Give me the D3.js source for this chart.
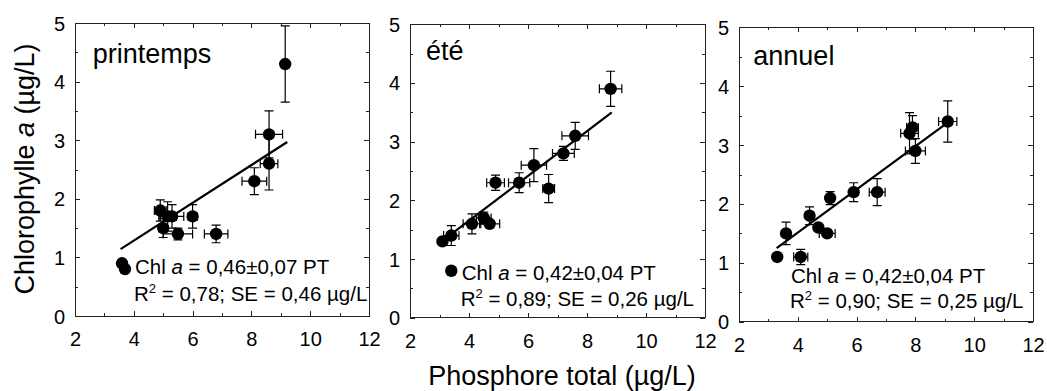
<!DOCTYPE html>
<html>
<head>
<meta charset="utf-8">
<script src="https://cdn.jsdelivr.net/npm/d3@7"></script>
<style>
  body { margin: 0; background: #fff; }
  text { font-family: Arial, "Liberation Sans", sans-serif; fill: #000; white-space: pre; }
</style>
</head>
<body>
<div id="main"></div>
<script>
const ctx = {
    w: 1047,
    h: 391,
};

// ticks
const xTicks = [2, 4, 6, 8, 10, 12];
const xMinor = [3, 5, 7, 9, 11];
const yTicks = [0, 1, 2, 3, 4, 5];
const yMinor = [0.5, 1.5, 2.5, 3.5, 4.5];

// [PT, Chl a, erreur PT, erreur Chl a]
const printemps = [
  [9.15, 4.3, 0, 0.65],
  [8.6, 3.1, 0.46, 0.4],
  [8.6, 2.6, 0.3, 0.45],
  [8.1, 2.3, 0.42, 0.23],
  [4.9, 1.8, 0.2, 0.18],
  [5.15, 1.7, 0.3, 0.25],
  [5.3, 1.7, 0.4, 0.2],
  [6.0, 1.7, 0.15, 0.2],
  [5.0, 1.5, 0.15, 0.16],
  [5.5, 1.4, 0.5, 0.1],
  [6.8, 1.4, 0.4, 0.15],
  [3.6, 0.9, 0.1, 0.05],
  [3.7, 0.8, 0.1, 0.05]
];
const ete = [
  [8.8, 3.9, 0.38, 0.3],
  [7.6, 3.1, 0.45, 0.23],
  [7.2, 2.8, 0.37, 0.12],
  [6.2, 2.6, 0.43, 0.28],
  [5.7, 2.3, 0.36, 0.17],
  [4.9, 2.3, 0.3, 0.13],
  [6.7, 2.2, 0.2, 0.24],
  [4.1, 1.6, 0.3, 0.17],
  [4.5, 1.7, 0.25, 0.1],
  [4.7, 1.6, 0.34, 0.05],
  [3.4, 1.4, 0.26, 0.17],
  [3.1, 1.3, 0.1, 0.05],
  [3.4, 0.8, 0, 0]
];
const annuel = [
  [9.1, 3.4, 0.31, 0.35],
  [7.9, 3.3, 0.2, 0.2],
  [7.8, 3.2, 0.3, 0.35],
  [8.0, 2.9, 0.34, 0.21],
  [6.7, 2.2, 0.27, 0.23],
  [5.9, 2.2, 0.1, 0.16],
  [5.1, 2.1, 0.1, 0.11],
  [4.4, 1.8, 0.1, 0.15],
  [3.6, 1.5, 0.1, 0.19],
  [4.7, 1.6, 0.1, 0.05],
  [5.0, 1.5, 0.27, 0.05],
  [3.3, 1.1, 0, 0],
  [4.1, 1.1, 0.24, 0.13]
];

// regression lines, end points
const fitPrintemps = [[3.55, 1.14], [9.22, 2.97]];
const fitEte = [[3.13, 1.32], [8.84, 3.5]];
const fitAnnuel = [[3.28, 1.25], [9.06, 3.37]];

const names = ["printemps", "été", "annuel"];
const slopes = ["0,46±0,07", "0,42±0,04", "0,42±0,04"];
const r2s = ["0,78", "0,89", "0,90"];
const ses = ["0,46", "0,26", "0,25"];

// panel placement in pixels
const layout = [
  {left: 75, right: 369, top: 23, bottom: 316, lab: [17.7, 40], eq: [60, 251], eq2: [59, 277.7]},
  {left: 410, right: 705, top: 24.3, bottom: 317.7, lab: [16, 35.7], eq: [51.7, 255.7], eq2: [50.7, 281.7]},
  {left: 739, right: 1033, top: 27.3, bottom: 321.7, lab: [14.3, 37.7], eq: [52, 256], eq2: [51, 281]}
];

function drawPanel(svg, pts, fit, i) {
    const L = layout[i];
    const x = d3.scaleLinear().domain([2, 12]).range([L.left, L.right]);
    const y = d3.scaleLinear().domain([0, 5]).range([L.bottom, L.top]);
    const g = svg.append("g");

    const axis = (gen, tr, vals, size, pad, labels, dy) => {
        const a = g.append("g")
            .attr("transform", tr)
            .call(gen.tickValues(vals).tickSize(size).tickSizeOuter(0).tickPadding(pad)
                     .tickFormat(labels ? d3.format("d") : ""))
            .attr("font-size", 20);
        a.select(".domain").remove();
        a.selectAll("line").attr("stroke", "#222").attr("shape-rendering", "crispEdges");
        if (dy) a.selectAll("text").attr("dy", dy);
    };
    // inward ticks on all four sides
    axis(d3.axisBottom(x), `translate(0,${L.bottom})`, xTicks, -5, 16, true, "0.71em");
    axis(d3.axisBottom(x), `translate(0,${L.bottom})`, xMinor, -3, 16, false);
    axis(d3.axisTop(x), `translate(0,${L.top})`, xTicks, -5, 3, false);
    axis(d3.axisTop(x), `translate(0,${L.top})`, xMinor, -3, 3, false);
    axis(d3.axisLeft(y), `translate(${L.left},0)`, yTicks, -5, 10, true, "0.35em");
    axis(d3.axisLeft(y), `translate(${L.left},0)`, yMinor, -3, 10, false);
    axis(d3.axisRight(y), `translate(${L.right},0)`, yTicks, -5, 3, false);
    axis(d3.axisRight(y), `translate(${L.right},0)`, yMinor, -3, 3, false);

    g.append("rect")
        .attr("x", L.left).attr("y", L.top)
        .attr("width", L.right - L.left).attr("height", L.bottom - L.top)
        .attr("fill", "none").attr("stroke", "#222").attr("stroke-width", 1)
        .attr("shape-rendering", "crispEdges");

    // error bars
    const cap = 4.5;
    const eb = g.append("g").attr("stroke", "#000").attr("stroke-width", 1.2).attr("fill", "none");
    pts.filter(d => d[2] > 0).forEach(d => {
        const x0 = x(d[0] - d[2]), x1 = x(d[0] + d[2]), yy = y(d[1]);
        eb.append("path").attr("d", `M${x0},${yy}H${x1}M${x0},${yy - cap}V${yy + cap}M${x1},${yy - cap}V${yy + cap}`);
    });
    pts.filter(d => d[3] > 0).forEach(d => {
        const y0 = y(d[1] - d[3]), y1 = y(d[1] + d[3]), xx = x(d[0]);
        eb.append("path").attr("d", `M${xx},${y0}V${y1}M${xx - cap},${y0}H${xx + cap}M${xx - cap},${y1}H${xx + cap}`);
    });

    g.append("path")
        .attr("d", d3.line().x(d => x(d[0])).y(d => y(d[1]))(fit))
        .attr("stroke", "#000").attr("stroke-width", 2.2).attr("fill", "none");

    g.selectAll("circle")
        .data(pts)
        .enter()
        .append("circle")
        .attr("cx", d => x(d[0]))
        .attr("cy", d => y(d[1]))
        .attr("r", 6.2)
        .attr("fill", "#000");

    g.append("text")
        .attr("x", L.left + L.lab[0]).attr("y", L.top + L.lab[1])
        .attr("font-size", 27)
        .text(names[i]);

    const t1 = g.append("text")
        .attr("x", L.left + L.eq[0]).attr("y", L.top + L.eq[1])
        .attr("font-size", 20.5);
    t1.append("tspan").text("Chl ");
    t1.append("tspan").attr("font-style", "italic").text("a");
    t1.append("tspan").text(` = ${slopes[i]} PT`);

    const t2 = g.append("text")
        .attr("x", L.left + L.eq2[0]).attr("y", L.top + L.eq2[1])
        .attr("font-size", 20.5);
    t2.append("tspan").text("R");
    t2.append("tspan").attr("font-size", 13).attr("dy", -8).text("2");
    t2.append("tspan").attr("dy", 8).text(` = ${r2s[i]}; SE = ${ses[i]} µg/L`);
}

function createViz() {
    const svg = d3.select("#main").append("svg")
        .attr("width", ctx.w)
        .attr("height", ctx.h);

    drawPanel(svg, printemps, fitPrintemps, 0);
    drawPanel(svg, ete, fitEte, 1);
    drawPanel(svg, annuel, fitAnnuel, 2);

    const yt = svg.append("text")
        .attr("transform", "translate(34,169) rotate(-90)")
        .attr("text-anchor", "middle")
        .attr("font-size", 27);
    yt.append("tspan").text("Chlorophylle ");
    yt.append("tspan").attr("font-style", "italic").text("a");
    yt.append("tspan").text(" (µg/L)");

    svg.append("text")
        .attr("x", 562).attr("y", 385)
        .attr("text-anchor", "middle")
        .attr("font-size", 27)
        .text("Phosphore total (µg/L)");
}

createViz();
</script>
</body>
</html>
